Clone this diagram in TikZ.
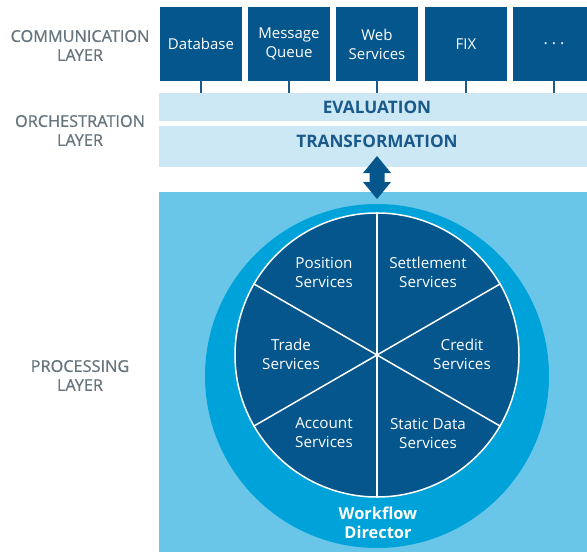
\documentclass[tikz,border=0pt]{standalone}
\usepackage{fontspec}
\setmainfont{Open Sans}
\newfontfamily\layerfont[FakeBold=0.7]{Open Sans}
\definecolor{darkblue}{HTML}{04568C}
\definecolor{bandblue}{HTML}{CDE8F5}
\definecolor{procblue}{HTML}{6AC6E8}
\definecolor{ringblue}{HTML}{00A3D9}
\definecolor{labelgrey}{HTML}{66747D}
\definecolor{bandtext}{HTML}{1A5A8A}
\begin{document}
\begin{tikzpicture}[x=1pt,y=-1pt,
  commbox/.style={fill=darkblue,text=white,minimum width=82pt,minimum height=74pt,inner sep=0pt,align=center,font=\fontsize{15}{19}\selectfont},
  band/.style={fill=bandblue,inner sep=0pt},
  bandlabel/.style={text=bandtext,font=\fontsize{17.2}{19}\selectfont\bfseries},
  layerlabel/.style={text=labelgrey,align=center,font=\layerfont\fontsize{16.3}{19}\selectfont},
  pielabel/.style={text=white,align=center,font=\fontsize{15.2}{19}\selectfont},
  conn/.style={draw=bandtext,line width=1.5pt}]
\useasboundingbox (0,0) rectangle (587,552);
\clip (0,0) rectangle (587,552);
% layer labels
\node[layerlabel] (lcomm) at (80,45.5) {COMMUNICATION\\LAYER};
\node[layerlabel] (lorch) at (80,130.5) {ORCHESTRATION\\LAYER};
\node[layerlabel] (lproc) at (80,375.5) {PROCESSING\\LAYER};
% communication boxes
\node[commbox] (db) at (201,44) {Database};
\node[commbox] (mq) at (289,44) {Message\\Queue};
\node[commbox] (ws) at (377,44) {Web\\Services};
\node[commbox] (fix) at (466,44) {FIX};
\node[commbox] (more) at (554,44) {};
\node[text=white,font=\fontsize{16}{19}\selectfont] (moretext) at (554,44) {.\kern4pt.\kern4pt.};
% bands
\node[band,minimum width=436pt,minimum height=28pt] (eval) at (377,107) {};
\node[bandlabel] (evaltext) at (377,107) {EVALUATION};
\node[band,minimum width=436pt,minimum height=41pt] (trans) at (377,146.5) {};
\node[bandlabel] (transtext) at (377,141.5) {TRANSFORMATION};
% connectors
\foreach \b in {db,mq,ws,fix,more}
  \draw[conn] (\b.south) -- (\b.south |- eval.north);
% processing area
\node[fill=procblue,minimum width=436pt,minimum height=368pt,inner sep=0pt] (proc) at (377,376) {};
\node[circle,fill=ringblue,minimum size=344pt,inner sep=0pt] (ring) at (377,376) {};
\node[circle,fill=darkblue,draw=white,line width=1.5pt,minimum size=284pt,inner sep=0pt] (pie) at (377,355) {};
\foreach \a in {90,30,-30,-90,150,210}
  \draw[white,line width=1.5pt] (pie.center) -- (pie.\a);
% double arrow
\fill[darkblue] (377,156) -- (391,173) -- (384.5,173) -- (384.5,182) -- (391,182) -- (377,199)
  -- (363,182) -- (369.5,182) -- (369.5,173) -- (363,173) -- cycle;
% pie labels
\node[pielabel] (pos) at (324,272) {Position\\Services};
\node[pielabel] (set) at (428,272) {Settlement\\Services};
\node[pielabel] (trd) at (291,354) {Trade\\Services};
\node[pielabel] (cred) at (462,354) {Credit\\Services};
\node[pielabel] (acc) at (324,433) {Account\\Services};
\node[pielabel] (stat) at (428,433) {Static Data\\Services};
\node[pielabel,font=\fontsize{16.4}{19}\selectfont\bfseries] (wf) at (378,523) {Workflow\\Director};
\end{tikzpicture}
\end{document}
